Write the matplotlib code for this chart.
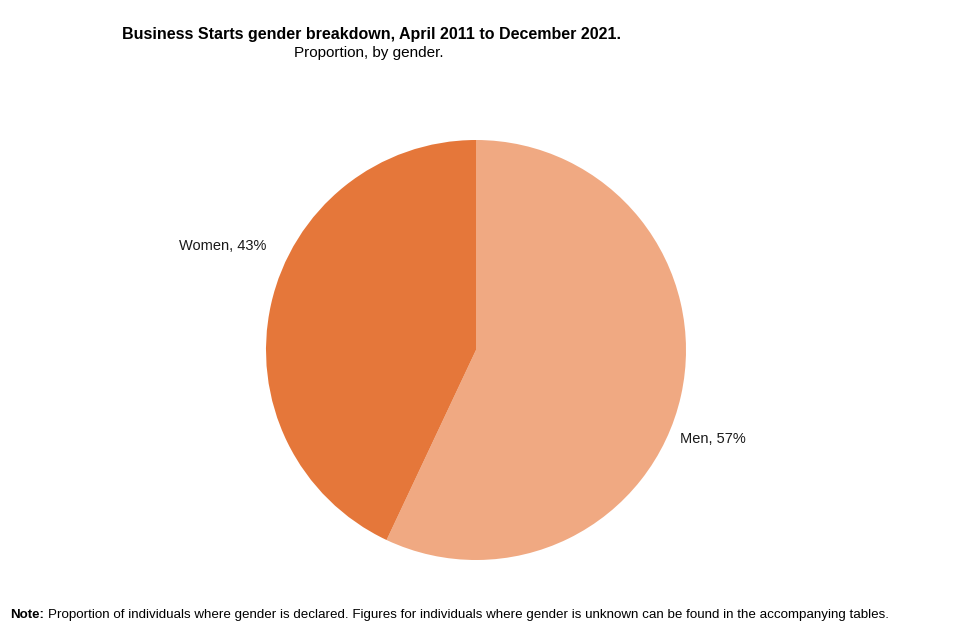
import matplotlib
matplotlib.use("Agg")
import matplotlib.pyplot as plt

categories = ["Men", "Women"]
values = [57, 43]
colors = ["#F0A982", "#E5773A"]

plt.rcParams['font.family'] = ['Liberation Sans', 'DejaVu Sans']

fig = plt.figure(figsize=(9.6, 6.4), dpi=100)
ax = fig.add_axes([266/960, 80/640, 420/960, 420/640])
wedges, _ = ax.pie(values, colors=colors, startangle=90, counterclock=False,
                   radius=1.0, wedgeprops=dict(linewidth=0))
ax.set_xlim(-1, 1)
ax.set_ylim(-1, 1)
ax.set_aspect('equal')
ax.axis('off')

label_pos = {"Men": (1.13, -0.425), "Women": (-1.205, 0.495)}
for cat, v in zip(categories, values):
    x, y = label_pos[cat]
    ax.text(x, y, f"{cat}, {v}%", ha='center', va='center', fontsize=10.5, color='#1a1a1a')

fig.text(371/960, 1 - 34/640, "Business Starts gender breakdown, April 2011 to December 2021.",
         ha='center', va='center', fontsize=11.5, fontweight='bold')
fig.text(369/960, 1 - 53/640, "Proportion, by gender.", ha='center', va='center', fontsize=11)

t1 = fig.text(10/960, 1 - 615/640, "Note:", ha='left', va='center', fontsize=9.6, fontweight='bold')
fig.canvas.draw()
bb = t1.get_window_extent(renderer=fig.canvas.get_renderer())
fig.text((bb.x1 + 4) / 960, 1 - 615/640,
         "Proportion of individuals where gender is declared. Figures for individuals where gender is unknown can be found in the accompanying tables.",
         ha='left', va='center', fontsize=9.6)

fig.savefig("out.png", dpi=100, facecolor='white')
